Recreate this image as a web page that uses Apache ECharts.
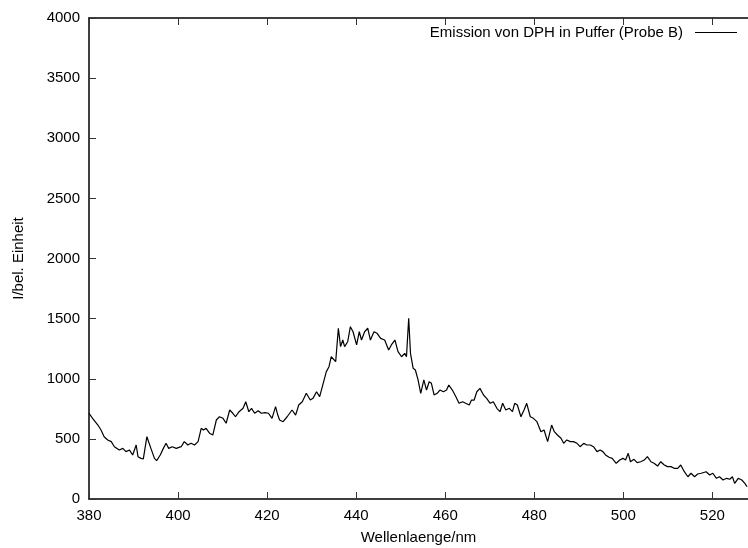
<!DOCTYPE html>
<html>
<head>
<meta charset="utf-8">
<script src="https://cdn.jsdelivr.net/npm/echarts@6/dist/echarts.min.js"></script>
<style>
html,body{margin:0;padding:0;background:#fff;}
#chart{width:748px;height:548px;}
</style>
</head>
<body>
<div id="chart"></div>
<script>
// Wavelength (nm) samples
var wavelengths = [
380.0,380.8,382.0,382.7,383.4,384.2,385.0,385.7,386.8,387.6,388.3,389.1,389.8,390.6,391.0,391.7,392.2,393.0,393.9,394.7,
395.2,396.0,396.7,397.3,397.9,398.7,399.6,400.7,401.4,402.2,402.9,403.7,404.5,405.2,405.7,406.3,407.1,407.8,408.6,409.3,
410.1,410.8,411.6,412.3,412.9,413.7,414.6,415.2,415.9,416.5,417.2,418.0,418.7,419.5,
420.3,421.1,421.9,422.4,422.8,423.6,424.5,425.6,426.4,427.1,427.9,428.8,429.7,430.3,431.1,431.8,432.6,433.3,433.9,434.4,
434.8,435.4,436.0,436.5,437.0,437.4,438.1,438.7,439.3,440.1,440.7,441.2,441.9,442.6,443.2,444.0,444.7,445.5,446.4,447.3,
447.9,448.7,449.4,450.2,450.9,451.3,451.8,452.2,452.8,453.3,453.9,454.5,455.2,455.8,456.4,456.9,457.5,458.2,458.8,
459.6,460.3,460.8,461.6,462.4,463.1,463.9,464.6,465.4,465.9,466.5,467.1,467.8,468.6,469.3,470.1,470.8,471.6,472.3,472.9,
473.6,474.4,475.1,475.6,476.2,477.0,477.7,478.3,479.1,479.8,480.6,481.5,482.2,483.0,483.9,484.5,485.2,486.0,486.6,487.3,
488.1,488.8,489.6,490.3,491.1,491.8,492.6,493.3,494.1,494.8,
495.4,496.0,496.8,497.5,498.4,499.2,499.9,500.5,501.1,501.6,502.4,503.1,503.9,504.7,505.4,506.2,506.9,507.7,508.4,509.2,
509.9,510.7,511.4,512.2,512.9,513.7,514.5,515.2,516.0,516.7,517.5,518.6,519.4,520.1,520.9,521.6,522.4,523.2,523.9,524.5,
525.0,525.8,526.6,527.3,527.8
];
// Intensity (I/bel. Einheit)
var intensities = [
713,671,615,574,518,491,477,435,407,421,394,407,366,449,352,338,333,518,421,338,
319,366,421,463,421,435,421,435,477,449,463,449,477,588,574,588,546,532,657,684,
671,630,740,713,684,726,754,809,726,754,713,734,713,718,
713,671,768,698,657,643,684,740,698,782,809,879,823,837,892,851,962,1059,1100,1183,
1170,1142,1420,1267,1322,1267,1308,1433,1391,1281,1391,1322,1391,1420,1322,1391,1378,1336,1322,1239,
1281,1322,1225,1183,1211,1183,1503,1211,1087,1073,990,879,990,906,975,962,865,879,906,
892,906,948,906,851,796,809,796,782,823,823,892,920,865,837,796,809,754,726,796,
740,754,726,796,782,684,740,796,684,671,643,560,574,477,615,560,532,505,463,491,
477,477,463,435,463,449,449,435,394,407,
394,366,347,338,297,324,338,324,380,310,330,302,310,324,352,310,297,274,310,283,
269,269,255,255,283,227,185,214,185,208,214,227,200,214,172,185,158,172,164,185,
130,172,158,130,102
];
var seriesName = 'Emission von DPH in Puffer (Probe B)';
var xTicks = [380, 400, 420, 440, 460, 480, 500, 520];
var yTicks = [0, 500, 1000, 1500, 2000, 2500, 3000, 3500, 4000];

var points = wavelengths.map(function (w, i) { return [w, intensities[i]]; });
var FONT = 'Liberation Sans, Arial, Helvetica, sans-serif';

var chart = echarts.init(document.getElementById('chart'), null, {renderer: 'canvas'});
chart.setOption({
  animation: false,
  backgroundColor: '#ffffff',
  textStyle: {fontFamily: FONT, color: '#000'},
  grid: {left: 89, right: 0, top: 18, bottom: 49, containLabel: false, outerBoundsMode: 'none'},
  legend: {
    show: true,
    right: 11,
    top: 25,
    padding: 0,
    align: 'right',
    icon: 'rect',
    itemWidth: 42,
    itemHeight: 1,
    textStyle: {fontFamily: FONT, fontSize: 15, color: '#000', padding: [0, 7, 0, 0]},
    data: [{name: seriesName, itemStyle: {color: '#000'}}]
  },
  xAxis: [{
    type: 'value',
    position: 'bottom',
    min: xTicks[0],
    max: 528,
    interval: 20,
    name: 'Wellenlaenge/nm',
    nameLocation: 'middle',
    nameGap: 31,
    nameTextStyle: {fontFamily: FONT, fontSize: 15, color: '#000'},
    axisLine: {show: true, onZero: false, lineStyle: {color: '#000', width: 1.5}},
    axisTick: {show: true, inside: true, length: 7, lineStyle: {color: '#333', width: 1}},
    axisLabel: {show: true, margin: 9, fontFamily: FONT, fontSize: 15, color: '#000',
      formatter: function (v) { return xTicks.indexOf(v) >= 0 ? String(v) : ''; }},
    splitLine: {show: false}
  }, {
    type: 'value',
    position: 'top',
    min: xTicks[0],
    max: 528,
    interval: 20,
    axisLine: {show: true, onZero: false, lineStyle: {color: '#000', width: 1.5}},
    axisTick: {show: true, inside: true, length: 7, lineStyle: {color: '#333', width: 1}},
    axisLabel: {show: false},
    splitLine: {show: false}
  }],
  yAxis: [{
    type: 'value',
    position: 'left',
    min: yTicks[0],
    max: yTicks[yTicks.length - 1],
    interval: 500,
    name: 'I/bel. Einheit',
    nameLocation: 'middle',
    nameGap: 63,
    nameRotate: 90,
    nameTextStyle: {fontFamily: FONT, fontSize: 15, color: '#000'},
    axisLine: {show: true, onZero: false, lineStyle: {color: '#000', width: 1.5}},
    axisTick: {show: true, inside: true, length: 7, lineStyle: {color: '#333', width: 1}},
    axisLabel: {show: true, margin: 9, fontFamily: FONT, fontSize: 15, color: '#000',
      formatter: function (v) { return String(v); }},
    splitLine: {show: false}
  }],
  series: [{
    name: seriesName,
    type: 'line',
    xAxisIndex: 0,
    yAxisIndex: 0,
    data: points,
    showSymbol: false,
    symbol: 'none',
    smooth: false,
    lineStyle: {color: '#000', width: 1.2},
    itemStyle: {color: '#000'}
  }]
});
</script>
</body>
</html>
